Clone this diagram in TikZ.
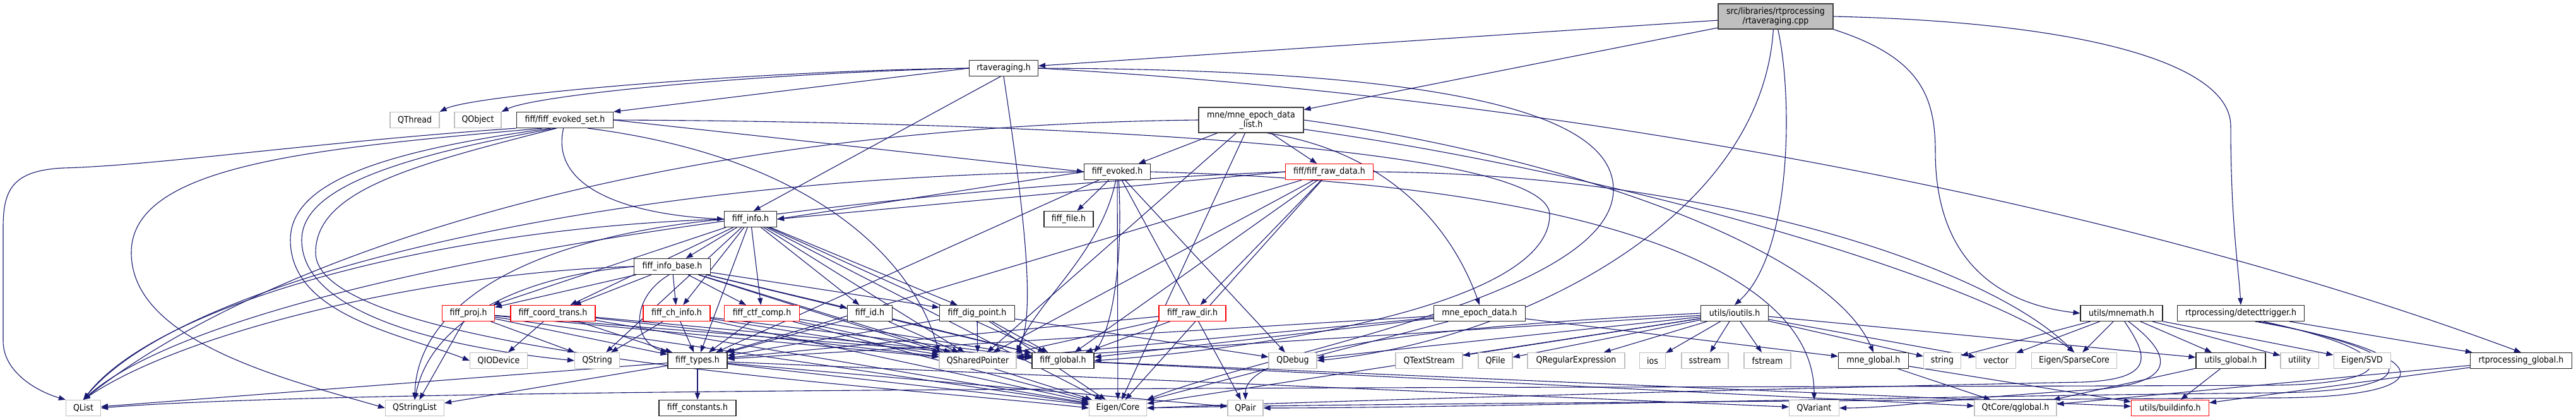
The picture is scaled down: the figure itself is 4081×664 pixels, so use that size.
\documentclass[tikz,border=0pt]{standalone}
\usepackage{fontspec}
\setmainfont{DejaVu Sans}[FakeStretch=0.9]
\usetikzlibrary{arrows.meta,backgrounds}
\definecolor{edgec}{HTML}{191970}
\definecolor{extgray}{HTML}{BFBFBF}
\definecolor{rootgray}{HTML}{BFBFBF}
\newcommand{\nfont}{\fontsize{14}{15}\selectfont}
\begin{document}
\begin{tikzpicture}[x=1pt,y=-1pt,
 box/.style={draw,line width=1.1pt,fill=white,minimum height=25pt,inner sep=0pt,font=\nfont},
 ext/.style={box,draw=extgray},
 doc/.style={box,draw=black!85},
 inc/.style={box,draw=red},
 rootbox/.style={box,draw=black!75,fill=rootgray,minimum height=40pt,align=center},
 twol/.style={box,draw=black!75,minimum height=40pt,align=center},
 dep/.style={draw=edgec,line width=1.1pt,-{Triangle[length=11pt,width=8pt]}}]
\useasboundingbox (0,0) rectangle (4081,664);
% nodes
\node[rootbox,minimum width=182pt] (root) at (2813,26) {src/libraries/rtprocessing\\/rtaveraging.cpp};
\node[doc,minimum width=109pt] (rtavg) at (1590,108) {rtaveraging.h};
\node[ext,minimum width=78pt] (QThread) at (657,190) {QThread};
\node[ext,minimum width=74pt] (QObject) at (757,190) {QObject};
\node[doc,minimum width=153pt] (evset) at (895,190) {fiff/fiff\_evoked\_set.h};
\node[twol,minimum width=166pt] (epochlist) at (1982,190) {mne/mne\_epoch\_data\\\_list.h};
\node[doc,minimum width=105pt] (fevoked) at (1770,272) {fiff\_evoked.h};
\node[inc,minimum width=139pt] (frawdata) at (2106,272) {fiff/fiff\_raw\_data.h};
\node[doc,minimum width=83pt] (finfo) at (1189,347) {fiff\_info.h};
\node[doc,minimum width=78pt] (ffile) at (1693,347) {fiff\_file.h};
\node[doc,minimum width=121pt] (finfobase) at (1065,422) {fiff\_info\_base.h};
\node[inc,minimum width=83pt] (fproj) at (742,496) {fiff\_proj.h};
\node[inc,minimum width=134pt] (fcoord) at (876,496) {fiff\_coord\_trans.h};
\node[inc,minimum width=106pt] (fchinfo) at (1072,496) {fiff\_ch\_info.h};
\node[inc,minimum width=119pt] (fctf) at (1207,496) {fiff\_ctf\_comp.h};
\node[doc,minimum width=71pt] (fid) at (1378,496) {fiff\_id.h};
\node[doc,minimum width=119pt] (fdig) at (1548,496) {fiff\_dig\_point.h};
\node[inc,minimum width=106pt] (frawdir) at (1889,496) {fiff\_raw\_dir.h};
\node[doc,minimum width=145pt] (mneepoch) at (2344,496) {mne\_epoch\_data.h};
\node[doc,minimum width=107pt] (ioutils) at (2748,496) {utils/ioutils.h};
\node[doc,minimum width=130pt] (mnemath) at (3361,496) {utils/mnemath.h};
\node[doc,minimum width=201pt] (detect) at (3550,496) {rtprocessing/detecttrigger.h};
\node[ext,minimum width=91pt] (QIODevice) at (790,571) {QIODevice};
\node[ext,minimum width=71pt] (QString) at (946,571) {QString};
\node[doc,minimum width=94pt] (ftypes) at (1105,571) {fiff\_types.h};
\node[ext,minimum width=122pt] (QSharedPointer) at (1549,571) {QSharedPointer};
\node[doc,minimum width=98pt] (fglobal) at (1684,571) {fiff\_global.h};
\node[ext,minimum width=76pt] (QDebug) at (2048,571) {QDebug};
\node[ext,minimum width=106pt] (QTextStream) at (2264,571) {QTextStream};
\node[ext,minimum width=54pt] (QFile) at (2369,571) {QFile};
\node[ext,minimum width=154pt] (QRegExp) at (2497,571) {QRegularExpression};
\node[ext,minimum width=41pt] (ios) at (2618,571) {ios};
\node[ext,minimum width=74pt] (sstream) at (2701,571) {sstream};
\node[ext,minimum width=74pt] (fstream) at (2800,571) {fstream};
\node[doc,minimum width=111pt] (mneglobal) at (2968,571) {mne\_global.h};
\node[ext,minimum width=59pt] (string) at (3077,571) {string};
\node[ext,minimum width=63pt] (vector) at (3162,571) {vector};
\node[ext,minimum width=135pt] (sparse) at (3286,571) {Eigen/SparseCore};
\node[doc,minimum width=110pt] (utilsglobal) at (3534,571) {utils\_global.h};
\node[ext,minimum width=60pt] (utility) at (3643,571) {utility};
\node[ext,minimum width=90pt] (svd) at (3742,571) {Eigen/SVD};
\node[doc,minimum width=161pt] (rtpglobal) at (3994,571) {rtprocessing\_global.h};
\node[ext,minimum width=55pt] (QList) at (132,646) {QList};
\node[ext,minimum width=93pt] (QStringList) at (657,646) {QStringList};
\node[doc,minimum width=122pt] (fconst) at (1105,646) {fiff\_constants.h};
\node[ext,minimum width=91pt] (EigenCore) at (1771,646) {Eigen/Core};
\node[ext,minimum width=56pt] (QPair) at (1973,646) {QPair};
\node[ext,minimum width=79pt] (QVariant) at (2874,646) {QVariant};
\node[ext,minimum width=130pt] (qglobal) at (3193,646) {QtCore/qglobal.h};
\node[inc,minimum width=123pt] (buildinfo) at (3438,646) {utils/buildinfo.h};
% edges
\begin{scope}[on background layer]
\fill[white] (0,0) rectangle (4081,664);
% root
\draw[dep] (root) -- (rtavg);
\draw[dep] (root) -- (epochlist);
\draw[dep] (root.-80) .. controls (2840,150) and (2840,400) .. (ioutils.north);
\draw[dep] (root.south east) .. controls (3040,90) and (3066,150) .. (3066,240) .. controls (3066,440) and (3200,485) .. (mnemath.west);
\draw[dep] (root.east) .. controls (3300,35) and (3534,100) .. (3534,200) .. controls (3534,350) and (3546,420) .. (detect.north);
\draw[dep] (root.-100) .. controls (2790,350) and (2400,540) .. (QDebug.east);
% rtaveraging.h
\draw[dep] (rtavg.west) .. controls (1200,112) and (750,150) .. (QThread.north east);
\draw[dep] (rtavg.west) .. controls (1200,116) and (850,150) .. (QObject.north east);
\draw[dep] (rtavg.west) -- (evset.north east);
\draw[dep] (rtavg.-110) -- (finfo.70);
\draw[dep] (rtavg.south) .. controls (1625,350) and (1640,500) .. (QSharedPointer.north east);
\draw[dep] (rtavg.east) .. controls (2300,110) and (2556,180) .. (2556,300) .. controls (2556,470) and (2000,560) .. (EigenCore.north east);
\draw[dep] (rtavg.east) .. controls (2400,150) and (3300,300) .. (rtpglobal.north);
% fiff_evoked_set.h
\draw[dep] (evset.south west) .. controls (500,225) and (250,262) .. (100,266) .. controls (20,270) and (5,300) .. (5,360) -- (5,540) .. controls (5,590) and (60,620) .. (QList.north west);
\draw[dep] (evset.-160) .. controls (500,235) and (208,260) .. (208,400) .. controls (208,540) and (450,600) .. (QStringList.west);
\draw[dep] (evset.-150) .. controls (600,240) and (460,290) .. (460,380) .. controls (460,500) and (640,530) .. (QIODevice.west);
\draw[dep] (evset.-140) .. controls (620,250) and (478,300) .. (478,380) .. controls (478,520) and (800,560) .. (QString.west);
\draw[dep] (evset.-135) .. controls (660,260) and (500,300) .. (500,400) .. controls (500,560) and (1400,610) .. (EigenCore.west);
\draw[dep] (evset.-100) .. controls (870,300) and (1000,340) .. (finfo.west);
\draw[dep] (evset.east) -- (fevoked.west);
\draw[dep] (evset.-20) .. controls (1300,250) and (1450,420) .. (QSharedPointer.north west);
\draw[dep] (evset.east) .. controls (1500,192) and (2455,220) .. (2455,340) .. controls (2455,500) and (1900,560) .. (fglobal.east);
% mne_epoch_data_list.h
\draw[dep] (epochlist) -- (fevoked);
\draw[dep] (epochlist) -- (frawdata);
\draw[dep] (epochlist.-40) .. controls (2200,240) and (2300,360) .. (mneepoch.north);
\draw[dep] (epochlist.east) .. controls (2500,250) and (2900,400) .. (mneglobal.north);
\draw[dep] (epochlist.-10) .. controls (2600,280) and (3150,450) .. (sparse.north);
\draw[dep] (epochlist.west) .. controls (1000,200) and (400,420) .. (QList.north);
\draw[dep] (epochlist) -- (QSharedPointer);
\draw[dep] (epochlist) -- (EigenCore);
% fiff_evoked.h
\draw[dep] (fevoked.west) -- (finfo.east);
\draw[dep] (fevoked.west) .. controls (1000,280) and (300,430) .. (QList.north);
\draw[dep] (fevoked) -- (ffile);
\draw[dep] (fevoked.-80) .. controls (1780,420) and (1760,520) .. (fglobal.north east);
\draw[dep] (fevoked.-100) .. controls (1745,400) and (1640,480) .. (QSharedPointer.north east);
\draw[dep] (fevoked) -- (EigenCore);
\draw[dep] (fevoked) -- (ftypes);
\draw[dep] (fevoked.east) .. controls (2500,290) and (2874,420) .. (QVariant.north);
\draw[dep] (fevoked) -- (QPair);
\draw[dep] (fevoked) -- (QDebug);
% fiff_raw_data.h
\draw[dep] (frawdata.west) -- (finfo.east);
\draw[dep] (frawdata.west) .. controls (1300,300) and (350,440) .. (QList.north);
\draw[dep] (frawdata) -- (frawdir);
\draw[dep] (frawdata) -- (fglobal);
\draw[dep] (frawdata) -- (QSharedPointer);
\draw[dep] (frawdata) -- (EigenCore);
\draw[dep] (frawdata) -- (ftypes);
\draw[dep] (frawdata.east) .. controls (2700,275) and (3150,420) .. (sparse.north);
% fiff_info.h
\draw[dep] (finfo) -- (finfobase);
\draw[dep] (finfo) -- (fproj);
\draw[dep] (finfo) -- (fcoord);
\draw[dep] (finfo) -- (fchinfo);
\draw[dep] (finfo) -- (fctf);
\draw[dep] (finfo) -- (fid);
\draw[dep] (finfo) -- (fdig);
\draw[dep] (finfo) -- (ftypes);
\draw[dep] (finfo) -- (fglobal);
\draw[dep] (finfo) -- (QSharedPointer);
\draw[dep] (finfo) -- (EigenCore);
\draw[dep] (finfo.west) .. controls (700,360) and (250,480) .. (QList.north);
\draw[dep] (finfo.west) .. controls (800,380) and (660,500) .. (QStringList.north);
\draw[dep] (finfo) -- (QString);
% fiff_info_base.h
\draw[dep] (finfobase) -- (fproj);
\draw[dep] (finfobase) -- (fcoord);
\draw[dep] (finfobase) -- (fchinfo);
\draw[dep] (finfobase) -- (fctf);
\draw[dep] (finfobase) -- (fid);
\draw[dep] (finfobase) -- (fdig);
\draw[dep] (finfobase.-110) .. controls (1000,470) and (1000,540) .. (ftypes.north west);
\draw[dep] (finfobase) -- (fglobal);
\draw[dep] (finfobase) -- (QSharedPointer);
\draw[dep] (finfobase) -- (EigenCore);
\draw[dep] (finfobase.west) .. controls (700,430) and (300,520) .. (QList.north);
\draw[dep] (finfobase.west) .. controls (800,440) and (680,520) .. (QStringList.north);
% fiff_proj.h
\draw[dep] (fproj) -- (ftypes);
\draw[dep] (fproj) -- (fglobal);
\draw[dep] (fproj) -- (QSharedPointer);
\draw[dep] (fproj) -- (QString);
\draw[dep] (fproj) -- (QStringList);
\draw[dep] (fproj) -- (EigenCore);
% fiff_coord_trans.h
\draw[dep] (fcoord) -- (ftypes);
\draw[dep] (fcoord) -- (fglobal);
\draw[dep] (fcoord) -- (QSharedPointer);
\draw[dep] (fcoord) -- (QIODevice);
\draw[dep] (fcoord) -- (EigenCore);
% fiff_ch_info.h
\draw[dep] (fchinfo) -- (ftypes);
\draw[dep] (fchinfo) -- (fglobal);
\draw[dep] (fchinfo) -- (QSharedPointer);
\draw[dep] (fchinfo) -- (QString);
\draw[dep] (fchinfo) -- (EigenCore);
% fiff_ctf_comp.h
\draw[dep] (fctf) -- (ftypes);
\draw[dep] (fctf) -- (fglobal);
\draw[dep] (fctf) -- (QSharedPointer);
\draw[dep] (fctf) -- (EigenCore);
% fiff_id.h
\draw[dep] (fid) -- (ftypes);
\draw[dep] (fid) -- (fglobal);
\draw[dep] (fid) -- (QSharedPointer);
% fiff_dig_point.h
\draw[dep] (fdig) -- (ftypes);
\draw[dep] (fdig) -- (fglobal);
\draw[dep] (fdig) -- (QSharedPointer);
\draw[dep] (fdig) -- (QDebug);
\draw[dep] (fdig) -- (EigenCore);
% fiff_raw_dir.h
\draw[dep] (frawdir) -- (ftypes);
\draw[dep] (frawdir) -- (fglobal);
\draw[dep] (frawdir) -- (QSharedPointer);
% mne_epoch_data.h
\draw[dep] (mneepoch) -- (ftypes);
\draw[dep] (mneepoch) -- (mneglobal);
\draw[dep] (mneepoch) -- (QSharedPointer);
\draw[dep] (mneepoch) -- (EigenCore);
\draw[dep] (mneepoch) -- (fglobal);
% utils/ioutils.h
\draw[dep] (ioutils) -- (utilsglobal);
\draw[dep] (ioutils) -- (QTextStream);
\draw[dep] (ioutils) -- (QFile);
\draw[dep] (ioutils) -- (QRegExp);
\draw[dep] (ioutils) -- (ios);
\draw[dep] (ioutils) -- (sstream);
\draw[dep] (ioutils) -- (fstream);
\draw[dep] (ioutils) -- (string);
\draw[dep] (ioutils) -- (vector);
\draw[dep] (ioutils) -- (QDebug);
\draw[dep] (ioutils) -- (QSharedPointer);
\draw[dep] (ioutils) -- (EigenCore);
\draw[dep] (ioutils.west) .. controls (2200,520) and (1973,560) .. (QPair.north);
% utils/mnemath.h
\draw[dep] (mnemath) -- (utilsglobal);
\draw[dep] (mnemath) -- (string);
\draw[dep] (mnemath) -- (vector);
\draw[dep] (mnemath) -- (sparse);
\draw[dep] (mnemath) -- (utility);
\draw[dep] (mnemath) -- (svd);
\draw[dep] (mnemath.-70) .. controls (3400,560) and (3420,600) .. (3300,605) .. controls (2800,615) and (2100,635) .. (EigenCore.east);
\draw[dep] (mnemath.-50) .. controls (3440,560) and (3460,610) .. (3300,618) .. controls (3100,630) and (3000,646) .. (QVariant.east);
% rtprocessing/detecttrigger.h
\draw[dep] (detect) -- (rtpglobal);
\draw[dep] (detect.-20) .. controls (3820,560) and (3800,608) .. (3600,610) .. controls (2500,615) and (600,610) .. (QList.east);
\draw[dep] (detect.-25) .. controls (3850,560) and (3850,620) .. (3600,622) .. controls (3000,628) and (2300,646) .. (QPair.east);
\draw[dep] (detect.-30) .. controls (3870,560) and (3880,630) .. (3600,630) .. controls (2800,635) and (2100,640) .. (EigenCore.east);
% fiff_types.h
\draw[dep] (ftypes) -- (fconst);
\draw[dep] (ftypes) -- (QList);
\draw[dep] (ftypes) -- (QStringList);
\draw[dep] (ftypes) -- (EigenCore);
\draw[dep] (ftypes) -- (QPair);
\draw[dep] (ftypes) -- (QVariant);
% global headers
\draw[dep] (fglobal) -- (qglobal);
\draw[dep] (fglobal) -- (buildinfo);
\draw[dep] (mneglobal) -- (qglobal);
\draw[dep] (mneglobal) -- (buildinfo);
\draw[dep] (utilsglobal) -- (qglobal);
\draw[dep] (utilsglobal) -- (buildinfo);
\draw[dep] (rtpglobal) -- (qglobal);
\draw[dep] (rtpglobal) -- (buildinfo);
\end{scope}
\end{tikzpicture}
\end{document}
